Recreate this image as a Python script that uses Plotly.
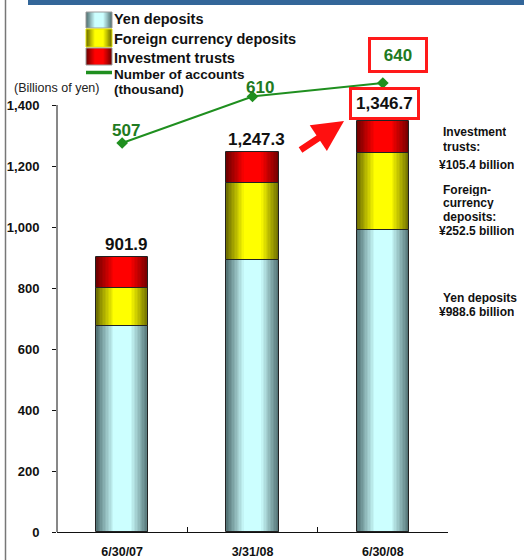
import plotly.graph_objects as go

# ---- data -------------------------------------------------------------
dates = ["6/30/07", "3/31/08", "6/30/08"]
yen_deposits = [674.5, 893.0, 988.6]          # billions of yen
foreign_deposits = [124.6, 252.8, 252.5]
investment_trusts = [102.8, 101.5, 105.4]
totals = [901.9, 1247.3, 1346.7]
accounts = [507, 610, 640]                    # thousand accounts
y_ticks = [0, 200, 400, 600, 800, 1000, 1200, 1400]

# ---- page geometry (pixels) ------------------------------------------
W, H = 524, 560
ML, MR, MT, MB = 57, 76, 70, 28
PW, PH = W - ML - MR, H - MT - MB
BAR_W = 0.4


def px(x):
    return (x - ML) / PW


def py(y):
    return (H - MB - y) / PH


def mix(dark, light, s):
    c = [round(d + (l - d) * s) for d, l in zip(dark, light)]
    return "rgb({},{},{})".format(*c)


def shade_level(u):
    # 0 at the edge of a cylinder, 1 across its bright middle
    return min(1.0, u / 0.7)


series = [
    ("Yen deposits", yen_deposits, (84, 116, 118), (204, 255, 255), "#9a9a9a"),
    ("Foreign currency deposits", foreign_deposits, (112, 112, 0), (255, 255, 0), "#e6e600"),
    ("Investment trusts", investment_trusts, (115, 0, 0), (255, 0, 0), "#9a9a9a"),
]

fig = go.Figure()

# stacked cylinders: each segment is a set of nested bars, dark outside, light inside
N = 18
base = [0.0] * len(dates)
for name, vals, dark, light, _ in series:
    for k in range(N):
        u = k / (N - 1)
        fig.add_trace(go.Bar(
            x=dates, y=vals, base=base, width=BAR_W * (1 - k / N),
            marker=dict(color=mix(dark, light, shade_level(u)), line=dict(width=0)),
            showlegend=False, hoverinfo="skip", name=name,
        ))
    fig.add_trace(go.Bar(
        x=dates, y=vals, base=base, width=BAR_W,
        marker=dict(color="rgba(0,0,0,0)", line=dict(color="#222222", width=1)),
        showlegend=False, name=name,
    ))
    base = [b + v for b, v in zip(base, vals)]

# number of accounts on a secondary scale
GREEN = "#1f8f1f"
TEXT_GREEN = "#217a21"
fig.add_trace(go.Scatter(
    x=dates, y=accounts, yaxis="y2", mode="lines+markers",
    line=dict(color=GREEN, width=2),
    marker=dict(symbol="diamond", size=9, color=GREEN),
    showlegend=False, name="Number of accounts (thousand)",
))

FONT = "Arial, 'Liberation Sans', sans-serif"
annotations = []

# totals above each bar
for i, (d, t) in enumerate(zip(dates, totals)):
    a = dict(x=d, y=t, xref="x", yref="y", text=f"{t:,.1f}", showarrow=False,
             yanchor="bottom", font=dict(family=FONT, size=17, color="#111111", weight="bold"))
    if i == len(dates) - 1:
        a.update(bordercolor="#ff1a1a", borderwidth=3, borderpad=4, bgcolor="white",
                 yshift=1, xshift=2)
    else:
        a.update(yshift=1, xshift=4)
    annotations.append(a)

# account labels
acc_shift = [(4, 12), (7, 9), (15, 28)]
for i, (d, v) in enumerate(zip(dates, accounts)):
    a = dict(x=d, y=v, xref="x", yref="y2", text=str(v), showarrow=False,
             yanchor="middle", xshift=acc_shift[i][0], yshift=acc_shift[i][1],
             font=dict(family=FONT, size=17, color=TEXT_GREEN, weight="bold"))
    if i == len(dates) - 1:
        a.update(bordercolor="#ff1a1a", borderwidth=3, borderpad=2, bgcolor="white",
                 width=50, height=26)
    annotations.append(a)

# red arrow toward the latest total
annotations.append(dict(
    x=px(344), y=py(121), xref="paper", yref="paper", ax=-45, ay=30,
    showarrow=True, arrowhead=2, arrowsize=0.95, arrowwidth=6.5, arrowcolor="#ff1010",
    text="",
))

# unit label
annotations.append(dict(
    x=px(12), y=py(88), xref="paper", yref="paper", text="(Billions of yen)",
    showarrow=False, xanchor="left", yanchor="middle",
    font=dict(family=FONT, size=12.5, color="#222222"),
))

# legend text
legend_rows = [
    ("Yen deposits", 19, 14.5),
    ("Foreign currency deposits", 39, 14.5),
    ("Investment trusts", 58, 14.5),
    ("Number of accounts", 74, 13.5),
    ("(thousand)", 90, 13.5),
]
for txt, yy, fs in legend_rows:
    annotations.append(dict(
        x=px(112), y=py(yy), xref="paper", yref="paper", text=txt, showarrow=False,
        xanchor="left", yanchor="middle",
        font=dict(family=FONT, size=fs, color="#111111", weight="bold"),
    ))

# segment notes for the latest date, one line each
notes = [
    ("Investment", 441, 132),
    ("trusts:", 441, 147),
    ("¥105.4 billion", 437, 165),
    ("Foreign-", 441, 190),
    ("currency", 441, 203),
    ("deposits:", 441, 217),
    ("¥252.5 billion", 437, 231),
    ("Yen deposits", 441, 298),
    ("¥988.6 billion", 437, 312),
]
for txt, xx, yy in notes:
    annotations.append(dict(
        x=px(xx), y=py(yy), xref="paper", yref="paper", text=txt, showarrow=False,
        xanchor="left", yanchor="middle", align="left", height=12,
        font=dict(family=FONT, size=12, color="#111111", weight="bold"),
    ))

shapes = []
# vertical axis line only up to the top tick
shapes.append(dict(type="line", xref="paper", yref="y", x0=0, x1=0, y0=0, y1=1400,
                   line=dict(color="#111111", width=1)))
# header band and left frame line
shapes.append(dict(type="rect", xref="paper", yref="paper", x0=px(28), x1=px(524),
                   y0=py(0), y1=py(5), fillcolor="#336699", line=dict(width=0), layer="above"))
shapes.append(dict(type="line", xref="paper", yref="paper", x0=px(5.5), x1=px(5.5),
                   y0=py(0), y1=py(560), line=dict(color="#777777", width=1.5)))

# legend swatches
swatch_rows = [(12, 28), (29, 47), (48, 65)]
for (y0, y1), (_, _, dark, light, edge) in zip(swatch_rows, series):
    x0, x1 = 86, 112
    M = 10
    cx = (x0 + x1) / 2
    for k in range(M):
        u = k / (M - 1)
        half = (x1 - x0) / 2 * (1 - k / M)
        shapes.append(dict(type="rect", xref="paper", yref="paper",
                           x0=px(cx - half), x1=px(cx + half), y0=py(y1), y1=py(y0),
                           fillcolor=mix(dark, light, shade_level(u)), line=dict(width=0)))
    shapes.append(dict(type="rect", xref="paper", yref="paper",
                       x0=px(x0), x1=px(x1), y0=py(y1), y1=py(y0),
                       line=dict(color=edge, width=1)))
shapes.append(dict(type="line", xref="paper", yref="paper", x0=px(86), x1=px(112),
                   y0=py(72.5), y1=py(72.5), line=dict(color=GREEN, width=3.5)))

fig.update_layout(
    width=W, height=H,
    margin=dict(l=ML, r=MR, t=MT, b=MB, pad=0, autoexpand=False),
    paper_bgcolor="white", plot_bgcolor="white",
    barmode="overlay", bargap=0,
    showlegend=False,
    font=dict(family=FONT, color="#111111"),
    xaxis=dict(
        type="category", range=[-0.5, 2.5], showline=True, linecolor="#111111", linewidth=1,
        ticks="inside", tickson="boundaries", ticklen=5, tickcolor="#111111",
        showgrid=False, zeroline=False, ticklabelstandoff=8, automargin=False,
        tickfont=dict(family=FONT, size=12.5, color="#111111", weight="bold"),
    ),
    yaxis=dict(
        range=[0, (H - MB - MT) / 0.305], tickvals=y_ticks, tickformat=",d",
        showline=False, ticks="outside", ticklen=4, tickcolor="#111111",
        showgrid=False, zeroline=False, ticklabelstandoff=10, automargin=False,
        tickfont=dict(family=FONT, size=13, color="#111111", weight="bold"),
    ),
    yaxis2=dict(overlaying="y", range=[-355.5, 668.8], visible=False),
    annotations=annotations,
    shapes=shapes,
)

fig.write_html("out.html")
